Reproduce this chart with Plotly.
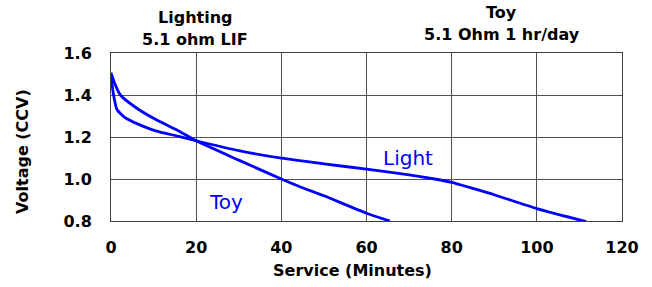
import plotly.graph_objects as go

light_x = [0, 0.2, 0.8, 1.4, 3.3, 6.5, 10.5, 15.9, 21.4, 30, 40, 50, 60, 70, 76, 80, 85, 90, 100, 111.6]
light_v = [1.50, 1.456, 1.378, 1.331, 1.292, 1.26, 1.229, 1.203, 1.175, 1.135, 1.099, 1.072, 1.047,
           1.02, 1.0, 0.984, 0.955, 0.925, 0.859, 0.797]
toy_x = [0, 1.0, 2.2, 6.5, 11.2, 15.9, 20, 30, 40, 44.5, 50, 60, 65.5]
toy_v = [1.506, 1.448, 1.40, 1.331, 1.276, 1.229, 1.182, 1.09, 1.0, 0.962, 0.92, 0.837, 0.80]

x_ticks = [0, 20, 40, 60, 80, 100, 120]
y_ticks = [0.8, 1.0, 1.2, 1.4, 1.6]
y_tick_text = ["0.8", "1.0", "1.2", "1.4", "1.6"]

BLUE = "#0000FF"
FONT = "DejaVu Sans"

fig = go.Figure()
fig.add_trace(go.Scatter(x=light_x, y=light_v, mode="lines", name="Light",
                         line=dict(color=BLUE, width=2.8, shape="spline", smoothing=0.6)))
fig.add_trace(go.Scatter(x=toy_x, y=toy_v, mode="lines", name="Toy",
                         line=dict(color=BLUE, width=2.8, shape="spline", smoothing=0.6)))

axis_common = dict(showgrid=True, gridcolor="#505050", gridwidth=1,
                   showline=True, linecolor="#404040", linewidth=1, mirror=True,
                   zeroline=False, ticks="", automargin=False,
                   tickfont=dict(family=FONT, size=16, color="black", weight="bold"))

fig.update_xaxes(range=[0, 120], tickvals=x_ticks, ticklabelstandoff=12, **axis_common)
fig.update_yaxes(range=[0.8, 1.6], tickvals=y_ticks, ticktext=y_tick_text,
                 ticklabelstandoff=15, **axis_common)

L, R, T, B = 111, 30, 53, 66
W, H = 652, 287
pw, ph = W - L - R, H - T - B


def px_x(x):
    return (x - L) / pw


def px_y(y):
    return (H - B - y) / ph


def ann(text, x, y, size=16, color="black", angle=0):
    return dict(text=text, x=px_x(x), y=px_y(y), xref="paper", yref="paper",
                xanchor="center", yanchor="middle", showarrow=False, textangle=angle,
                font=dict(size=size, color=color))


annots = [
    ann("<b>Lighting</b>", 195, 17),
    ann("<b>5.1 ohm LIF</b>", 195, 39),
    ann("<b>Toy</b>", 501.5, 13),
    ann("<b>5.1 Ohm 1 hr/day</b>", 501.5, 35),
    ann("<b>Service (Minutes)</b>", 352, 270),
    ann("<b>Voltage (CCV)</b>", 22, 152, angle=-90),
    dict(text="Light", x=69.7, y=1.10, xref="x", yref="y", showarrow=False,
         xanchor="center", yanchor="middle", font=dict(size=20, color=BLUE)),
    dict(text="Toy", x=27.1, y=0.889, xref="x", yref="y", showarrow=False,
         xanchor="center", yanchor="middle", font=dict(size=20, color=BLUE)),
]

fig.update_layout(template="none", width=W, height=H, margin=dict(l=L, r=R, t=T, b=B),
                  plot_bgcolor="white", paper_bgcolor="white", showlegend=False,
                  font=dict(family=FONT, color="black"), annotations=annots)

fig.write_html("out.html", config={"displayModeBar": False},
               post_script="document.body.style.margin='0';document.body.style.padding='0';")
